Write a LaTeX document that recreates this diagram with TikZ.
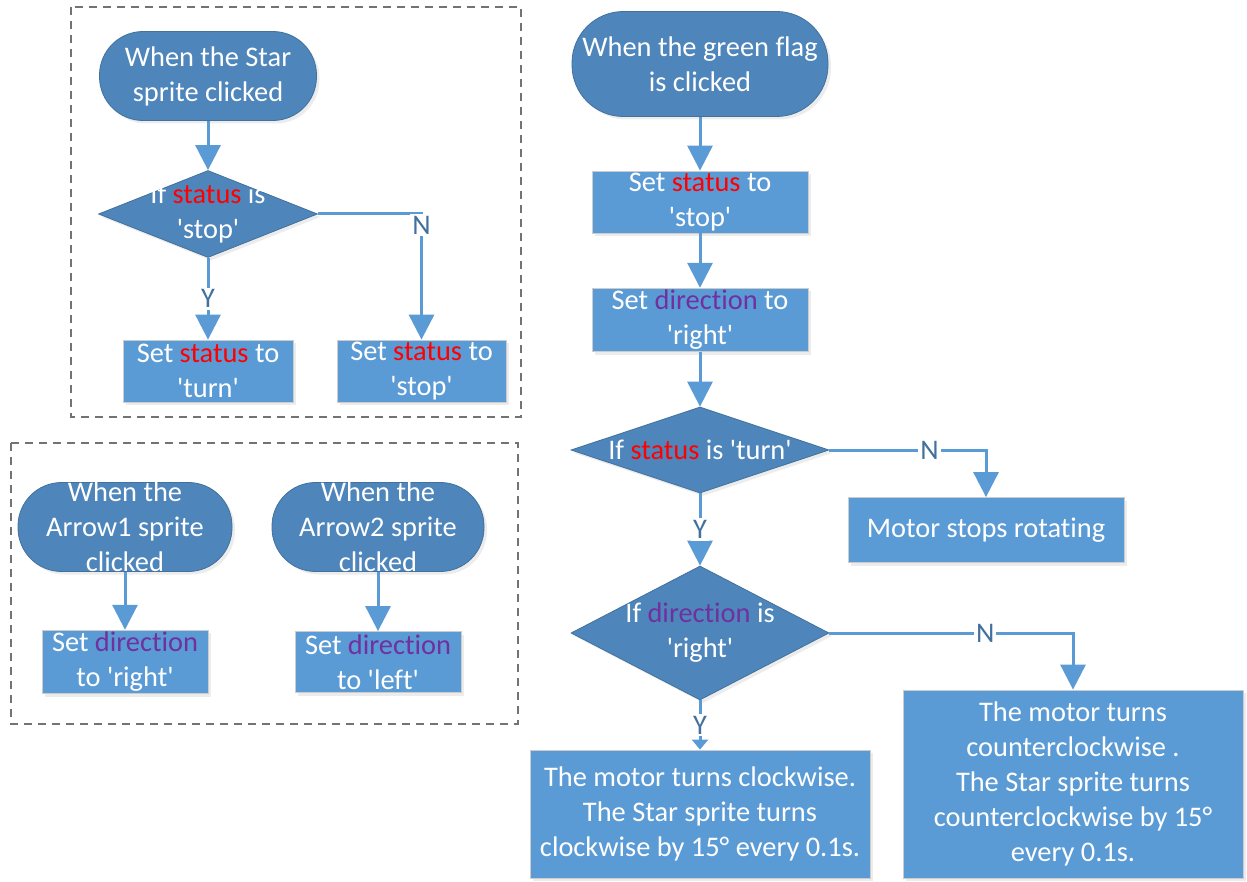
\documentclass[tikz,border=0pt]{standalone}
\usepackage{fontspec}
\setmainfont{Carlito}[Ligatures={TeXOff, CommonOff}]
\usetikzlibrary{arrows.meta, shapes.geometric, shadows}
\usepackage{xcolor}

\definecolor{termblue}{HTML}{4E85BB}
\definecolor{termedge}{HTML}{41719C}
\definecolor{boxblue}{HTML}{5B9BD5}
\definecolor{flowblue}{HTML}{5B9BD5}
\definecolor{lblblue}{HTML}{41719C}
\definecolor{statred}{HTML}{FF0000}
\definecolor{dirpurple}{HTML}{7030A0}
\newcommand{\statusword}{\textcolor{statred}{status}}
\newcommand{\dirword}{\textcolor{dirpurple}{direction}}

\begin{document}
\begin{tikzpicture}[x=0.5pt, y=-0.5pt,
	every node/.style={font=\fontsize{14.2}{17.5}\selectfont, text=white, align=center},
	term/.style 2 args={rectangle, rounded corners=#2*0.49, minimum width=#1, minimum height=#2, inner sep=-5pt, fill=termblue, draw=termedge, drop shadow={opacity=0.15, shadow xshift=1.5pt, shadow yshift=-1.5pt}},
	dec/.style 2 args={diamond, minimum width=#1, minimum height=#2, inner sep=-40pt, fill=termblue, draw=termedge, drop shadow={opacity=0.15, shadow xshift=1.5pt, shadow yshift=-1.5pt}},
	proc/.style 2 args={rectangle, minimum width=#1, minimum height=#2, inner sep=1pt, fill=boxblue, draw=black!20, drop shadow={opacity=0.15, shadow xshift=1.5pt, shadow yshift=-1.5pt}},
	flow/.style={draw=flowblue, line width=1.5pt, -{Triangle[width=12.5pt, length=12.5pt]}},
	lbl/.style={fill=white, text=lblblue, inner sep=1pt},
	groupbox/.style={draw=black!55, dash pattern=on 4pt off 3pt, line width=0.6pt}]
	\useasboundingbox (0,0) rectangle (1247,882);

	\draw [groupbox] (71,7) rectangle (521,417);
	\draw [groupbox] (11,443) rectangle (518,724);

	\node [term={108.5pt}{44.5pt}] (star) at (208,76) {When the Star\\sprite clicked};
	\node [dec={109.5pt}{43.5pt}] (q1) at (208,214) {If \statusword{} is\\'stop'};
	\node [proc={85pt}{31pt}] (setturn) at (208,371) {Set \statusword{} to\\'turn'};
	\node [proc={84.5pt}{31pt}] (setstop) at (421.5,371) {Set \statusword{} to\\'stop'};

	\node [term={107pt}{44.5pt}] (arrowA) at (125,527) {When the\\Arrow1 sprite\\clicked};
	\node [term={106pt}{44.5pt}] (arrowB) at (378,527) {When the\\Arrow2 sprite\\clicked};
	\node [proc={83pt}{30.5pt}] (setright) at (125,662) {Set \dirword\\to 'right'};
	\node [proc={83pt}{30.5pt}] (setleft) at (378,662) {Set \dirword\\to 'left'};

	\node [term={128pt}{52.5pt}] (flag) at (700,64) {When the green flag\\is clicked};
	\node [proc={108pt}{30pt}] (init) at (700,202) {Set \statusword{} to\\'stop'};
	\node [proc={108pt}{31pt}] (dir) at (700,320) {Set \dirword{} to\\'right'};
	\node [dec={129pt}{43pt}] (q2) at (700,450) {If \statusword{} is 'turn'};
	\node [proc={138pt}{32.5pt}] (halt) at (986,530) {Motor stops rotating};
	\node [dec={129pt}{67pt}] (q3) at (700,633) {If \dirword{} is\\'right'};
	\node [proc={170pt}{64pt}] (cw) at (700,814) {The motor turns clockwise.\\The Star sprite turns\\clockwise by 15° every 0.1s.};
	\node [proc={170pt}{94pt}] (ccw) at (1073,784) {The motor turns\\counterclockwise .\\The Star sprite turns\\counterclockwise by 15°\\every 0.1s.};

	\draw [flow] (star.south) -- (q1.north);
	\draw [flow] (q1.south) -- node [lbl] {Y} (setturn.north);
	\draw [flow] (q1.east) -| node [lbl, pos=0.5, yshift=-5.5pt] {N} (setstop.north);
	\draw [flow] (arrowA.south) -- (setright.north);
	\draw [flow] (arrowB.south) -- (setleft.north);
	\draw [flow] (flag.south) -- (init.north);
	\draw [flow] (init.south) -- (dir.north);
	\draw [flow] (dir.south) -- (q2.north);
	\draw [flow] (q2.east) -| node [lbl, pos=0.32] {N} (halt.north);
	\draw [flow] (q2.south) -- node [lbl] {Y} (q3.north);
	\draw [flow] (q3.east) -| node [lbl, pos=0.32] {N} (ccw.north);
	\draw [flow, -{Triangle[width=8pt, length=5pt]}] (q3.south) -- node [lbl] {Y} (cw.north);
\end{tikzpicture}
\end{document}
